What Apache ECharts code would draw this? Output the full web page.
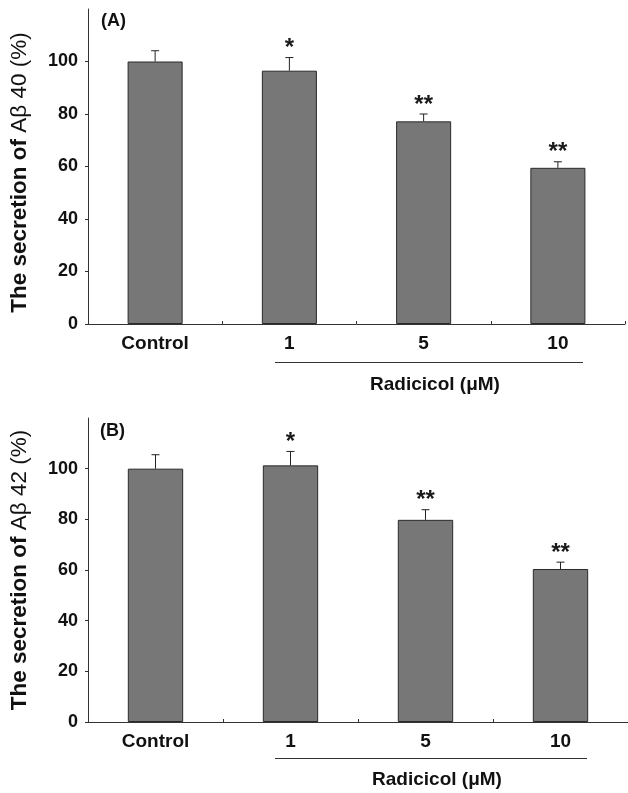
<!DOCTYPE html>
<html>
<head>
<meta charset="utf-8">
<script src="https://cdn.jsdelivr.net/npm/echarts@6/dist/echarts.min.js"></script>
<style>
  html, body { margin: 0; padding: 0; background: #fff; }
  #main { width: 628px; height: 793px; }
</style>
</head>
<body>
<div id="main"></div>
<script>
// data
var categories = ['Control', '1', '5', '10'];
var meanA = [100, 96.5, 77.2, 59.5];
var errA  = [4.1, 5.0, 2.8, 2.3];
var meanB = [100, 101.3, 79.8, 60.4];
var errB  = [5.5, 5.5, 4.0, 2.7];
var sigA  = ['', '*', '**', '**'];
var sigB  = ['', '*', '**', '**'];
var yTicks = [0, 20, 40, 60, 80, 100];

var FONT = 'Liberation Sans, Arial, sans-serif';
var barColor = '#777777';

function errRender(means, errs, sigs) {
  return function (params, api) {
    var i = api.value(0);
    var base = api.coord([i, means[i]]);
    var top = api.coord([i, means[i] + errs[i]]);
    var x = base[0];
    return {
      type: 'group',
      children: [
        { type: 'line', shape: { x1: x, y1: base[1], x2: x, y2: top[1] },
          style: { stroke: '#222', lineWidth: 1 } },
        { type: 'line', shape: { x1: x - 4, y1: top[1], x2: x + 4, y2: top[1] },
          style: { stroke: '#222', lineWidth: 1 } },
        { type: 'text', x: x, y: top[1] - 9,
          style: { text: sigs[i], fill: '#1a1a1a', font: 'bold 24px ' + FONT,
                   textAlign: 'center', textVerticalAlign: 'middle' } }
      ]
    };
  };
}

function yAxis(gridIndex, name, pad) {
  return {
    type: 'value', gridIndex: gridIndex, min: 0, max: 120, interval: 20,
    axisLine: { show: true, lineStyle: { color: '#333', width: 1 } },
    axisTick: { show: true, inside: false, length: 3, lineStyle: { color: '#333' } },
    splitLine: { show: false },
    axisLabel: {
      showMaxLabel: false, margin: 10, color: '#111', fontSize: 18,
      fontWeight: 'bold', fontFamily: FONT,
      formatter: function (v) { return yTicks.indexOf(v) >= 0 ? String(v) : ''; }
    },
    name: name, nameLocation: 'middle', nameRotate: 90, nameGap: 57,
    nameTextStyle: {
      fontFamily: FONT, color: '#111', padding: pad,
      rich: {
        b: { fontSize: 22.5, fontWeight: 'bold', fontFamily: FONT, color: '#111' },
        r: { fontSize: 22.5, fontWeight: 'normal', fontFamily: FONT, color: '#111' }
      }
    }
  };
}

function xAxis(gridIndex) {
  return {
    type: 'category', gridIndex: gridIndex, data: categories, boundaryGap: true,
    axisLine: { show: true, lineStyle: { color: '#333', width: 1 } },
    axisTick: { show: true, inside: true, length: 3, lineStyle: { color: '#333' } },
    axisLabel: { color: '#111', fontSize: 19, fontWeight: 'bold', fontFamily: FONT, margin: 10 }
  };
}

var chart = echarts.init(document.getElementById('main'));
chart.setOption({
  backgroundColor: '#fff',
  animation: false,
  grid: [
    { left: 88, right: 3, top: 9, bottom: 469 },
    { left: 87, right: -5, top: 418, bottom: 71 }
  ],
  xAxis: [xAxis(0), xAxis(1)],
  yAxis: [
    yAxis(0, '{b|The secretion of }{r|A\u03b2 40 (%)}', [0, 12, 0, 0]),
    yAxis(1, '{b|The secretion of }{r|A\u03b2 42 (%)}', 0)
  ],
  series: [
    { type: 'bar', xAxisIndex: 0, yAxisIndex: 0, data: meanA, barWidth: '41%',
      itemStyle: { color: barColor, borderColor: '#2a2a2a', borderWidth: 1 } },
    { type: 'custom', xAxisIndex: 0, yAxisIndex: 0,
      data: categories.map(function (c, i) { return [i]; }),
      renderItem: errRender(meanA, errA, sigA), z: 3 },
    { type: 'bar', xAxisIndex: 1, yAxisIndex: 1, data: meanB, barWidth: '41%',
      itemStyle: { color: barColor, borderColor: '#2a2a2a', borderWidth: 1 } },
    { type: 'custom', xAxisIndex: 1, yAxisIndex: 1,
      data: categories.map(function (c, i) { return [i]; }),
      renderItem: errRender(meanB, errB, sigB), z: 3 }
  ],
  graphic: [
    { type: 'text', left: 101, top: 12,
      style: { text: '(A)', font: 'bold 18px ' + FONT, fill: '#111' } },
    { type: 'line', shape: { x1: 275, y1: 362.5, x2: 583, y2: 362.5 },
      style: { stroke: '#333', lineWidth: 1 } },
    { type: 'text', x: 435, y: 385,
      style: { text: 'Radicicol (\u03bcM)', font: 'bold 19px ' + FONT, fill: '#111',
               textAlign: 'center', textVerticalAlign: 'middle' } },
    { type: 'text', left: 100, top: 422,
      style: { text: '(B)', font: 'bold 18px ' + FONT, fill: '#111' } },
    { type: 'line', shape: { x1: 275, y1: 758.5, x2: 587, y2: 758.5 },
      style: { stroke: '#333', lineWidth: 1 } },
    { type: 'text', x: 437, y: 780,
      style: { text: 'Radicicol (\u03bcM)', font: 'bold 19px ' + FONT, fill: '#111',
               textAlign: 'center', textVerticalAlign: 'middle' } }
  ]
});
</script>
</body>
</html>
